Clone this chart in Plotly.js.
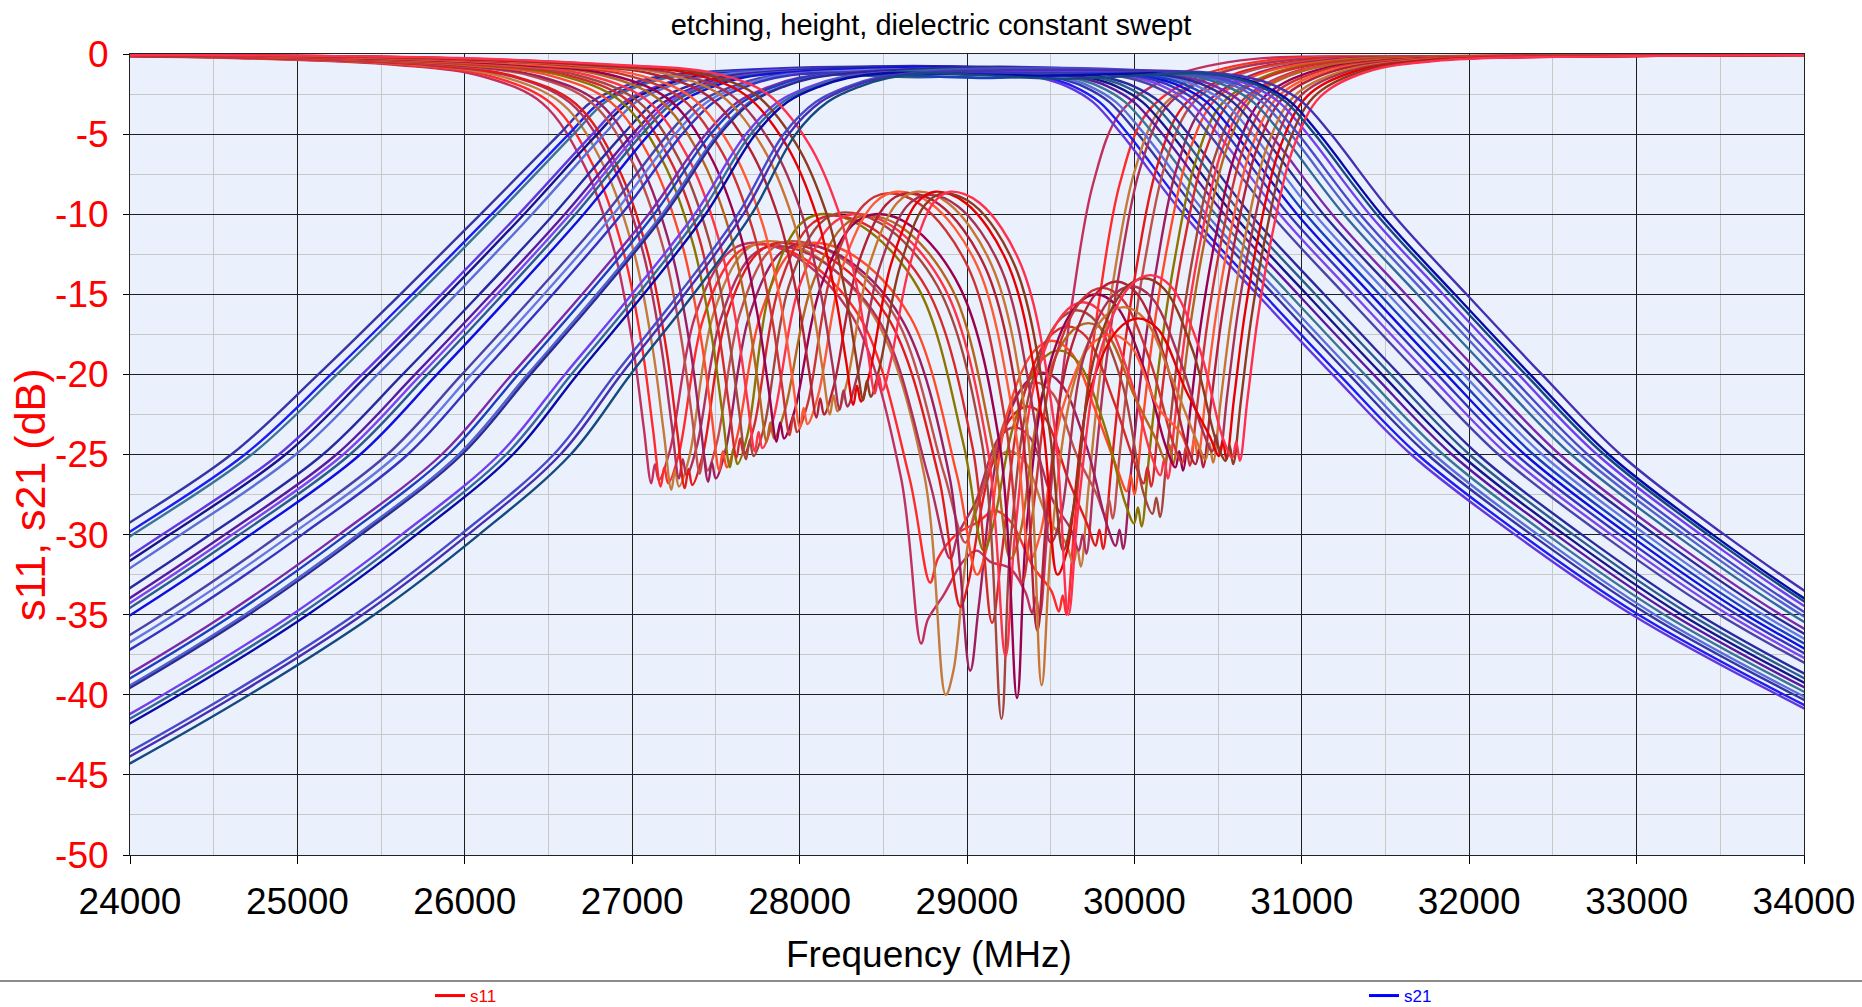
<!DOCTYPE html>
<html><head><meta charset="utf-8">
<script src="https://cdn.plot.ly/plotly-3.0.1.min.js"></script>
<style>html,body{margin:0;padding:0;background:#fff}#chart{width:1862px;height:1007px}</style>
</head><body><div id="chart"></div>
<script>
// ---------- axis ticks ----------
const xTickVals = [24000,25000,26000,27000,28000,29000,30000,31000,32000,33000,34000];
const xTickText = ['24000','25000','26000','27000','28000','29000','30000','31000','32000','33000','34000'];
const yTickVals = [0,-5,-10,-15,-20,-25,-30,-35,-40,-45,-50];
const yTickText = ['0','-5','-10','-15','-20','-25','-30','-35','-40','-45','-50'];

// ---------- s21: dB levels and the frequencies (MHz) where each curve crosses them ----------
const s21LowLevels  = [-50,-45,-40,-35,-30,-25,-20,-15,-10,-5,-3,-2,-1.5,-1.2];
const s21HighLevels = [-1.2,-1.5,-2,-3,-5,-10,-15,-20,-25,-30,-35,-40,-45,-50];
const s21LowFreq = [
 [20265,21315,22265,23115,23885,24605,25125,25615,26095,26565,26755,26955,27115,27335],
 [20373,21417,22363,23209,23973,24686,25200,25685,26160,26621,26811,27011,27171,27391],
 [20428,21469,22412,23256,24017,24727,25237,25720,26192,26650,26840,27040,27200,27420],
 [20645,21674,22608,23443,24193,24889,25386,25860,26322,26763,26953,27153,27313,27533],
 [20699,21725,22657,23490,24237,24929,25423,25895,26354,26791,26981,27181,27341,27561],
 [20780,21802,22730,23560,24303,24990,25479,25948,26402,26833,27023,27223,27383,27603],
 [20997,22007,22926,23748,24479,25152,25629,26088,26532,26946,27136,27336,27496,27716],
 [21106,22109,23024,23842,24567,25233,25703,26158,26597,27003,27193,27393,27553,27773],
 [21160,22160,23073,23889,24611,25274,25740,26193,26629,27031,27221,27421,27581,27801],
 [21214,22212,23121,23935,24655,25314,25778,26228,26661,27059,27249,27449,27609,27829],
 [21296,22289,23195,24006,24721,25375,25834,26280,26710,27102,27292,27492,27652,27872],
 [21513,22494,23391,24193,24897,25537,25983,26420,26839,27215,27405,27605,27765,27985],
 [21594,22570,23464,24264,24963,25598,26039,26473,26888,27257,27447,27647,27807,28027],
 [21675,22647,23537,24334,25029,25659,26095,26526,26936,27299,27489,27689,27849,28069],
 [21946,22903,23782,24568,25249,25862,26281,26701,27098,27440,27630,27830,27990,28210],
 [22001,22955,23831,24615,25293,25902,26319,26736,27131,27469,27659,27859,28019,28239],
 [22082,23032,23904,24685,25359,25963,26375,26788,27179,27511,27701,27901,28061,28281],
 [22109,23057,23929,24709,25381,25983,26393,26806,27195,27525,27715,27915,28075,28295],
 [22407,23339,24198,24967,25623,26206,26598,26998,27373,27680,27870,28070,28230,28450],
 [22462,23390,24247,25014,25667,26247,26636,27033,27406,27709,27899,28099,28259,28479],
 [22516,23441,24296,25061,25711,26287,26673,27068,27438,27737,27927,28127,28287,28507],
 [22841,23749,24590,25342,25975,26531,26897,27278,27632,27906,28096,28296,28456,28676],
 [22896,23800,24639,25389,26019,26571,26934,27313,27664,27935,28125,28325,28485,28705],
 [22977,23877,24712,25459,26085,26632,26990,27366,27713,27977,28167,28367,28527,28747]
];
const s21MidFreq = [28338,28336,28428,28388,28550,28492,28680,28630,28810,28710,28897,28875,29027,28970,29171,29107,29267,29187,29402,29340,29466,29487,29600,29572];
const s21MiddB = [-0.8,-0.9,-1.0,-0.85,-1.3,-0.9,-0.75,-1.1,-0.95,-1.45,-0.8,-1.0,-0.9,-1.2,-0.85,-1.5,-0.95,-0.8,-1.05,-0.9,-1.35,-0.85,-1.0,-1.55];
const s21HighFreq = [
 [29341,29541,29691,29851,30021,30391,30831,31281,31751,32371,33071,33941,34921,36021],
 [29282,29482,29632,29792,29962,30332,30772,31222,31692,32312,33012,33882,34862,35962],
 [29435,29635,29785,29945,30115,30485,30925,31375,31845,32465,33165,34035,35015,36115],
 [29243,29443,29593,29753,29923,30293,30733,31183,31653,32273,32973,33843,34823,35923],
 [29539,29739,29889,30049,30219,30589,31029,31479,31949,32569,33269,34139,35119,36219],
 [29380,29580,29730,29890,30060,30430,30870,31320,31790,32410,33110,33980,34960,36060],
 [29643,29843,29993,30153,30323,30693,31133,31583,32053,32673,33373,34243,35223,36323],
 [29487,29687,29837,29997,30167,30537,30977,31427,31897,32517,33217,34087,35067,36167],
 [29818,30018,30168,30328,30498,30868,31308,31758,32228,32848,33548,34418,35398,36498],
 [29591,29791,29941,30101,30271,30641,31081,31531,32001,32621,33321,34191,35171,36271],
 [29922,30122,30272,30432,30602,30972,31412,31862,32332,32952,33652,34522,35502,36602],
 [29765,29965,30115,30275,30445,30815,31255,31705,32175,32795,33495,34365,35345,36445],
 [30026,30226,30376,30536,30706,31076,31516,31966,32436,33056,33756,34626,35606,36706],
 [29870,30070,30220,30380,30550,30920,31360,31810,32280,32900,33600,34470,35450,36550],
 [30131,30331,30481,30641,30811,31181,31621,32071,32541,33161,33861,34731,35711,36811],
 [29974,30174,30324,30484,30654,31024,31464,31914,32384,33004,33704,34574,35554,36654],
 [30253,30453,30603,30763,30933,31303,31743,32193,32663,33283,33983,34853,35833,36933],
 [30079,30279,30429,30589,30759,31129,31569,32019,32489,33109,33809,34679,35659,36759],
 [30354,30554,30704,30864,31034,31404,31844,32294,32764,33384,34084,34954,35934,37034],
 [30200,30400,30550,30710,30880,31250,31690,32140,32610,33230,33930,34800,35780,36880],
 [30424,30624,30774,30934,31104,31474,31914,32364,32834,33454,34154,35024,36004,37104],
 [30298,30498,30648,30808,30978,31348,31788,32238,32708,33328,34028,34898,35878,36978],
 [30494,30694,30844,31004,31174,31544,31984,32434,32904,33524,34224,35094,36074,37174],
 [30396,30596,30746,30906,31076,31446,31886,32336,32806,33426,34126,34996,35976,37076]
];
const s21Colors = ['#3535A5','#1E1EF0','#3B7596','#6236E0','#16168A','#5A6ED8','#2A2AA0','#5A1AA0','#7B46EA','#2A5C8C','#1010DD','#4B42A8','#6478E0','#3434C0','#7A2AAA','#1A40C0','#5262CC','#2B2B95','#7040EE','#33699A','#0A0AA8','#4848C8','#4430B0','#154A80'];

// ---------- s11: frequency (MHz) and dB points read for each swept curve ----------
const s11Freq = [
 [22614,24614,25614,26114,26464,26714,26894,27004,27069,27114,27136,27159,27224,27375,27565,27700,27956,28316,28603,28726,28766,28859,28975,29058,29140,29256,29349,29389,29412,29434,29479,29544,29634,29754,29914,30184,30634,31634,33434],
 [22670,24670,25670,26170,26520,26770,26950,27060,27125,27170,27192,27215,27278,27425,27609,27740,28000,28364,28655,28780,28826,28934,29068,29165,29261,29395,29503,29549,29572,29594,29639,29704,29794,29914,30074,30344,30794,31794,33594],
 [22734,24734,25734,26234,26584,26834,27014,27124,27189,27234,27256,27279,27340,27483,27662,27790,28061,28440,28743,28873,28919,29025,29159,29254,29349,29483,29589,29635,29658,29680,29725,29790,29880,30000,30160,30430,30880,31880,33680],
 [22780,24780,25780,26280,26630,26880,27060,27170,27235,27280,27302,27325,27386,27527,27704,27830,28097,28472,28772,28900,28946,29054,29188,29284,29380,29514,29622,29668,29691,29713,29758,29823,29913,30033,30193,30463,30913,31913,33713],
 [22814,24814,25814,26314,26664,26914,27094,27204,27269,27314,27336,27359,27420,27563,27742,27870,28142,28524,28829,28960,29008,29122,29263,29364,29465,29606,29720,29768,29791,29813,29858,29923,30013,30133,30293,30563,31013,32013,33813],
 [22904,24904,25904,26404,26754,27004,27184,27294,27359,27404,27426,27449,27507,27641,27810,27930,28195,28566,28863,28990,29040,29157,29303,29408,29512,29658,29775,29825,29848,29870,29915,29980,30070,30190,30350,30620,31070,32070,33870],
 [22954,24954,25954,26454,26804,27054,27234,27344,27409,27454,27476,27499,27558,27695,27867,27990,28247,28607,28896,29019,29071,29193,29345,29454,29562,29714,29836,29888,29911,29933,29978,30043,30133,30253,30413,30683,31133,32133,33933],
 [23020,25020,26020,26520,26870,27120,27300,27410,27475,27520,27542,27565,27624,27763,27936,28060,28310,28660,28940,29060,29114,29239,29396,29508,29619,29776,29901,29955,29978,30000,30045,30110,30200,30320,30480,30750,31200,32200,34000],
 [23084,25084,26084,26584,26934,27184,27364,27474,27539,27584,27606,27629,27688,27825,27997,28120,28365,28708,28982,29100,29154,29280,29437,29549,29661,29818,29944,29998,30021,30043,30088,30153,30243,30363,30523,30793,31243,32243,34043],
 [23123,25123,26123,26623,26973,27223,27403,27513,27578,27623,27645,27668,27729,27873,28052,28180,28422,28762,29034,29150,29204,29331,29489,29603,29716,29874,30001,30055,30078,30100,30145,30210,30300,30420,30580,30850,31300,32300,34100],
 [23180,25180,26180,26680,27030,27280,27460,27570,27635,27680,27702,27725,27788,27935,28119,28250,28489,28824,29091,29206,29260,29386,29544,29657,29770,29928,30054,30108,30131,30153,30198,30263,30353,30473,30633,30903,31353,32353,34153],
 [23233,25233,26233,26733,27083,27333,27513,27623,27688,27733,27755,27778,27843,27995,28185,28320,28547,28866,29121,29230,29286,29415,29577,29693,29808,29970,30099,30155,30178,30200,30245,30310,30400,30520,30680,30950,31400,32400,34200],
 [23303,25303,26303,26803,27153,27403,27583,27693,27758,27803,27825,27848,27913,28065,28255,28390,28607,28912,29156,29260,29316,29445,29608,29724,29839,30002,30131,30187,30210,30232,30277,30342,30432,30552,30712,30982,31432,32432,34232],
 [23362,25362,26362,26862,27212,27462,27642,27752,27817,27862,27884,27907,27972,28124,28314,28450,28662,28959,29197,29299,29356,29488,29654,29772,29890,30056,30188,30245,30268,30290,30335,30400,30490,30610,30770,31040,31490,32490,34290],
 [23440,25440,26440,26940,27290,27540,27720,27830,27895,27940,27962,27985,28049,28199,28386,28520,28722,29006,29233,29330,29387,29521,29689,29808,29927,30095,30229,30286,30309,30331,30376,30441,30531,30651,30811,31081,31531,32531,34331],
 [23502,25502,26502,27002,27352,27602,27782,27892,27957,28002,28024,28047,28111,28260,28447,28580,28780,29060,29284,29380,29437,29571,29738,29858,29977,30144,30278,30335,30358,30380,30425,30490,30580,30700,30860,31130,31580,32580,34380],
 [23601,25601,26601,27101,27451,27701,27881,27991,28056,28101,28123,28146,28205,28344,28517,28640,28835,29108,29326,29420,29477,29609,29775,29893,30011,30177,30309,30366,30389,30411,30456,30521,30611,30731,30891,31161,31611,32611,34411],
 [23681,25681,26681,27181,27531,27781,27961,28071,28136,28181,28203,28226,28283,28416,28582,28700,28886,29148,29356,29446,29505,29642,29813,29936,30058,30229,30366,30425,30448,30470,30515,30580,30670,30790,30950,31220,31670,32670,34470],
 [23740,25740,26740,27240,27590,27840,28020,28130,28195,28240,28262,28285,28342,28475,28641,28760,28945,29204,29411,29500,29558,29693,29862,29983,30103,30272,30407,30465,30488,30510,30555,30620,30710,30830,30990,31260,31710,32710,34510],
 [23821,25821,26821,27321,27671,27921,28101,28211,28276,28321,28343,28366,28419,28544,28699,28810,28992,29248,29452,29540,29598,29733,29902,30023,30143,30312,30447,30505,30528,30550,30595,30660,30750,30870,31030,31300,31750,32750,34550],
 [23880,25880,26880,27380,27730,27980,28160,28270,28335,28380,28402,28425,28477,28599,28751,28860,29039,29289,29489,29575,29633,29769,29939,30060,30181,30351,30487,30545,30568,30590,30635,30700,30790,30910,31070,31340,31790,32790,34590],
 [23950,25950,26950,27450,27800,28050,28230,28340,28405,28450,28472,28495,28544,28657,28799,28900,29076,29324,29521,29606,29665,29802,29973,30096,30218,30389,30526,30585,30608,30630,30675,30740,30830,30950,31110,31380,31830,32830,34630]
];
const s11dB = [
 [-0.05,-0.25,-0.7,-1.42,-3.08,-6.97,-12.33,-18.22,-23.32,-26.8,-25.6,-26.6,-24.8,-16.4,-12.5,-11.8,-12.5,-16.4,-26.3,-36.8,-35.3,-33.8,-31.7,-31.0,-31.7,-32.1,-33.6,-34.9,-33.9,-35.1,-29.84,-22.46,-15.09,-8.07,-3.69,-1.58,-0.4,-0.15,-0.05],
 [-0.05,-0.25,-0.7,-1.43,-3.11,-7.02,-12.42,-18.36,-23.49,-27.0,-25.8,-26.8,-25.0,-16.5,-12.6,-11.9,-12.6,-16.5,-26.4,-33.0,-31.5,-30.0,-29.2,-28.5,-29.2,-32.0,-33.5,-34.8,-33.8,-35.0,-29.75,-22.4,-15.05,-8.05,-3.68,-1.58,-0.4,-0.15,-0.05],
 [-0.05,-0.25,-0.7,-1.44,-3.13,-7.07,-12.51,-18.50,-23.66,-27.2,-26.0,-27.0,-25.2,-16.3,-12.4,-11.7,-12.4,-16.3,-26.2,-40.0,-38.5,-29.4,-25.5,-24.8,-25.5,-29.0,-30.5,-31.8,-30.8,-32.0,-27.2,-20.48,-13.76,-7.36,-3.36,-1.44,-0.4,-0.15,-0.05],
 [-0.05,-0.25,-0.7,-1.40,-3.05,-6.89,-12.19,-18.02,-23.06,-26.5,-25.3,-26.3,-24.5,-16.6,-12.7,-12.0,-12.7,-16.6,-26.5,-31.5,-30.0,-27.9,-24.0,-23.3,-24.0,-27.9,-29.7,-31.0,-30.0,-31.2,-26.52,-19.97,-13.42,-7.18,-3.28,-1.40,-0.4,-0.15,-0.05],
 [-0.05,-0.25,-0.7,-1.44,-3.12,-7.05,-12.47,-18.43,-23.58,-27.1,-25.9,-26.9,-25.1,-16.4,-12.5,-11.8,-12.5,-16.4,-26.3,-34.5,-33.0,-26.6,-22.7,-22.0,-22.7,-26.6,-29.4,-30.7,-29.7,-30.9,-26.27,-19.78,-13.29,-7.11,-3.24,-1.39,-0.4,-0.15,-0.05],
 [-0.05,-0.25,-0.7,-1.39,-3.01,-6.81,-12.05,-17.82,-22.79,-26.2,-25.0,-26.0,-24.2,-16.3,-12.4,-11.7,-12.4,-16.3,-26.2,-30.5,-29.0,-25.1,-21.2,-20.5,-21.2,-25.1,-27.5,-28.8,-27.8,-29.0,-24.65,-18.56,-12.47,-6.67,-3.05,-1.31,-0.4,-0.15,-0.05],
 [-0.05,-0.25,-0.7,-1.42,-3.07,-6.94,-12.28,-18.16,-23.23,-26.7,-25.5,-26.5,-24.7,-16.5,-12.6,-11.9,-12.6,-16.5,-26.4,-38.5,-34.4,-24.5,-20.6,-19.9,-20.6,-24.5,-29.4,-30.7,-29.7,-30.9,-26.27,-19.78,-13.29,-7.11,-3.24,-1.39,-0.4,-0.15,-0.05],
 [-0.05,-0.25,-0.7,-1.38,-2.99,-6.76,-11.96,-17.68,-22.62,-26.0,-24.8,-25.8,-24.0,-16.4,-12.5,-11.8,-12.5,-16.4,-26.3,-32.5,-31.0,-22.5,-18.6,-17.9,-18.6,-22.5,-26.0,-27.3,-26.3,-27.5,-23.38,-17.6,-11.83,-6.33,-2.89,-1.24,-0.4,-0.15,-0.05],
 [-0.05,-0.25,-0.7,-1.37,-2.97,-6.71,-11.87,-17.54,-22.45,-25.8,-24.6,-25.6,-23.8,-14.6,-10.7,-10.0,-10.7,-14.6,-24.5,-31.0,-29.5,-23.1,-19.2,-18.5,-19.2,-23.1,-28.0,-29.3,-28.3,-29.5,-25.08,-18.88,-12.69,-6.79,-3.10,-1.33,-0.4,-0.15,-0.05],
 [-0.05,-0.25,-0.7,-1.34,-2.90,-6.55,-11.59,-17.14,-21.92,-25.2,-24.0,-25.0,-23.2,-14.7,-10.8,-10.1,-10.8,-14.7,-24.6,-35.5,-31.5,-21.6,-17.7,-17.0,-17.7,-21.6,-25.5,-26.8,-25.8,-27.0,-22.95,-17.28,-11.61,-6.21,-2.84,-1.22,-0.4,-0.15,-0.05],
 [-0.05,-0.25,-0.7,-1.34,-2.91,-6.58,-11.64,-17.20,-22.01,-25.3,-24.1,-25.1,-23.3,-14.5,-10.6,-9.9,-10.6,-14.5,-24.4,-41.5,-30.5,-20.6,-16.7,-16.0,-16.7,-20.6,-27.4,-28.7,-27.7,-28.9,-24.57,-18.50,-12.43,-6.65,-3.03,-1.30,-0.4,-0.15,-0.05],
 [-0.05,-0.25,-0.7,-1.31,-2.85,-6.45,-11.41,-16.86,-21.58,-24.8,-23.6,-24.6,-22.8,-14.6,-10.7,-10.0,-10.7,-14.6,-24.5,-37.6,-30.0,-20.1,-16.2,-15.5,-16.2,-20.1,-25.0,-26.3,-25.3,-26.5,-22.53,-16.96,-11.40,-6.10,-2.78,-1.19,-0.4,-0.15,-0.05],
 [-0.05,-0.25,-0.7,-1.28,-2.78,-6.29,-11.13,-16.46,-21.05,-24.2,-23.0,-24.0,-22.2,-14.7,-10.8,-10.1,-10.8,-14.7,-24.6,-31.5,-30.0,-21.4,-17.5,-16.8,-17.5,-21.4,-24.1,-25.4,-24.4,-25.6,-21.76,-16.38,-11.01,-5.89,-2.69,-1.15,-0.4,-0.15,-0.05],
 [-0.05,-0.25,-0.7,-1.28,-2.78,-6.29,-11.13,-16.46,-21.05,-24.2,-23.0,-24.0,-22.2,-14.6,-10.7,-10.0,-10.7,-14.6,-24.5,-40.2,-29.5,-19.6,-15.7,-15.0,-15.7,-19.6,-24.5,-25.8,-24.8,-26.0,-22.1,-16.64,-11.18,-5.98,-2.73,-1.17,-0.4,-0.15,-0.05],
 [-0.05,-0.25,-0.7,-1.26,-2.74,-6.19,-10.95,-16.18,-20.71,-23.8,-22.6,-23.6,-21.8,-13.3,-9.4,-8.7,-9.4,-13.3,-23.2,-33.0,-29.1,-19.2,-15.3,-14.6,-15.3,-19.2,-24.2,-25.5,-24.5,-25.7,-21.85,-16.45,-11.05,-5.91,-2.70,-1.16,-0.4,-0.15,-0.05],
 [-0.05,-0.25,-0.7,-1.23,-2.68,-6.06,-10.72,-15.84,-20.27,-23.3,-22.1,-23.1,-21.3,-13.2,-9.3,-8.6,-9.3,-13.2,-23.1,-31.5,-30.0,-22.1,-18.2,-17.5,-18.2,-22.1,-23.7,-25.0,-24.0,-25.2,-21.42,-16.13,-10.84,-5.80,-2.65,-1.13,-0.4,-0.15,-0.05],
 [-0.05,-0.25,-0.7,-1.20,-2.61,-5.90,-10.44,-15.44,-19.75,-22.7,-21.5,-22.5,-20.7,-13.3,-9.4,-8.7,-9.4,-13.3,-23.2,-36.0,-28.7,-18.8,-14.9,-14.2,-14.9,-18.8,-24.3,-25.6,-24.6,-25.8,-21.93,-16.51,-11.09,-5.93,-2.71,-1.16,-0.4,-0.15,-0.05],
 [-0.05,-0.25,-0.7,-1.19,-2.59,-5.85,-10.35,-15.30,-19.58,-22.5,-21.3,-22.3,-20.5,-13.2,-9.3,-8.6,-9.3,-13.2,-23.1,-39.4,-30.3,-20.4,-16.5,-15.8,-16.5,-20.4,-24.0,-25.3,-24.3,-25.5,-21.68,-16.32,-10.97,-5.87,-2.68,-1.15,-0.4,-0.15,-0.05],
 [-0.05,-0.25,-0.7,-1.18,-2.55,-5.77,-10.21,-15.10,-19.31,-22.2,-21.0,-22.0,-20.2,-13.4,-9.5,-8.8,-9.5,-13.4,-23.3,-30.5,-29.0,-19.1,-15.2,-14.5,-15.2,-19.1,-23.5,-24.8,-23.8,-25.0,-21.25,-16.0,-10.75,-5.75,-2.63,-1.13,-0.4,-0.15,-0.05],
 [-0.05,-0.25,-0.7,-1.16,-2.52,-5.69,-10.07,-14.89,-19.05,-21.9,-20.7,-21.7,-19.9,-13.2,-9.3,-8.6,-9.3,-13.2,-23.1,-32.5,-31.0,-21.1,-17.2,-16.5,-17.2,-21.1,-23.8,-25.1,-24.1,-25.3,-21.51,-16.19,-10.88,-5.82,-2.66,-1.14,-0.4,-0.15,-0.05],
 [-0.05,-0.25,-0.7,-1.14,-2.48,-5.62,-9.94,-14.69,-18.79,-21.6,-20.4,-21.4,-19.6,-13.3,-9.4,-8.7,-9.4,-13.3,-23.2,-31.0,-28.5,-18.6,-14.7,-14.0,-14.7,-18.6,-24.1,-25.4,-24.4,-25.6,-21.76,-16.38,-11.01,-5.89,-2.69,-1.15,-0.4,-0.15,-0.05],
 [-0.05,-0.25,-0.7,-1.12,-2.44,-5.51,-9.75,-14.42,-18.44,-21.2,-20.0,-21.0,-19.2,-13.2,-9.3,-8.6,-9.3,-13.2,-23.1,-35.0,-28.3,-18.4,-14.5,-13.8,-14.5,-18.4,-23.9,-25.2,-24.2,-25.4,-21.59,-16.26,-10.92,-5.84,-2.67,-1.14,-0.4,-0.15,-0.05]
];
const s11Colors = ['#C2305E','#FF2A2A','#C47A3C','#B0305A','#E31A1A','#C0504D','#9E1F5E','#FF4A2A','#8B7500','#D42A2A','#A4463C','#FF3347','#B5651D','#99004D','#CC3333','#FF5A36','#B22234','#C87533','#A83250','#E60000','#8E3A1E','#FF2F4F'];

// ---------- build traces ----------
const FONT = 'Arial, "Liberation Sans", Helvetica, sans-serif';
const LW = 2.4;
const traces = [];
const nMax = Math.max(s11Freq.length, s21LowFreq.length);
for (let i = 0; i < nMax; i++) {
  if (i < s11Freq.length) {
    traces.push({x: s11Freq[i], y: s11dB[i], type: 'scatter', mode: 'lines',
      line: {color: s11Colors[i], width: LW, shape: 'spline', smoothing: 1},
      showlegend: false, hoverinfo: 'skip'});
  }
  if (i < s21LowFreq.length) {
    traces.push({x: [...s21LowFreq[i], s21MidFreq[i], ...s21HighFreq[i]],
      y: [...s21LowLevels, s21MiddB[i], ...s21HighLevels], type: 'scatter', mode: 'lines',
      line: {color: s21Colors[i], width: LW, shape: 'spline', smoothing: 1},
      showlegend: false, hoverinfo: 'skip'});
  }
}
traces.push({x: [null], y: [null], name: 's11', type: 'scatter', mode: 'lines',
  line: {color: '#FF0000', width: 3}, legend: 'legend', hoverinfo: 'skip'});
traces.push({x: [null], y: [null], name: 's21', type: 'scatter', mode: 'lines',
  line: {color: '#0000FF', width: 3}, legend: 'legend2', hoverinfo: 'skip'});

const W = 1862, H = 1007, ML = 130, MR = 58, MT = 54, MB = 152;
const PW = W - ML - MR, PH = H - MT - MB;
const px2x = p => (p - ML) / PW;
const py2y = p => (MT + PH - p) / PH;

const layout = {
  width: W, height: H,
  margin: {l: ML, r: MR, t: MT, b: MB, pad: 0, autoexpand: false},
  paper_bgcolor: '#FFFFFF', plot_bgcolor: '#EBF1FC',
  font: {family: FONT, color: '#000000'},
  title: {text: 'etching, height, dielectric constant swept', font: {family: FONT, size: 29, color: '#000000'},
    x: 0.5, xref: 'container', xanchor: 'center', y: 1 - 25 / H, yref: 'container', yanchor: 'middle'},
  xaxis: {range: [24000, 34000], tickmode: 'array', tickvals: xTickVals, ticktext: xTickText,
    showgrid: true, gridcolor: '#1E1E1E', gridwidth: 1,
    minor: {tickmode: 'linear', tick0: 24000, dtick: 500, showgrid: true, gridcolor: '#C8C8C8', gridwidth: 1, ticks: ''},
    ticks: 'outside', ticklen: 8, tickwidth: 1, tickcolor: '#000000', ticklabelstandoff: 6,
    tickfont: {family: FONT, size: 37, color: '#000000'},
    showline: true, linecolor: '#222222', linewidth: 1, mirror: true, zeroline: false, fixedrange: true},
  yaxis: {range: [-50, 0], tickmode: 'array', tickvals: yTickVals, ticktext: yTickText,
    showgrid: true, gridcolor: '#1E1E1E', gridwidth: 1,
    minor: {tickmode: 'linear', tick0: 0, dtick: 2.5, showgrid: true, gridcolor: '#C8C8C8', gridwidth: 1, ticks: ''},
    ticks: 'outside', ticklen: 6, tickwidth: 1, tickcolor: '#000000', ticklabelstandoff: 7,
    tickfont: {family: FONT, size: 37, color: '#FF0000'},
    showline: true, linecolor: '#222222', linewidth: 1, mirror: true, zeroline: false, fixedrange: true},
  showlegend: true,
  legend: {orientation: 'h', x: px2x(430), xanchor: 'left', y: py2y(996), yanchor: 'middle',
    font: {family: FONT, size: 17, color: '#FF0000'}, bgcolor: 'rgba(0,0,0,0)', borderwidth: 0},
  legend2: {orientation: 'h', x: px2x(1364), xanchor: 'left', y: py2y(996), yanchor: 'middle',
    font: {family: FONT, size: 17, color: '#0000FF'}, bgcolor: 'rgba(0,0,0,0)', borderwidth: 0},
  annotations: [
    {text: 'Frequency (MHz)', xref: 'paper', yref: 'paper', x: px2x(929), y: py2y(954),
     xanchor: 'center', yanchor: 'middle', showarrow: false, font: {family: FONT, size: 37, color: '#000000'}},
    {text: 's11, s21 (dB)', xref: 'paper', yref: 'paper', x: px2x(30), y: py2y(495), textangle: -90,
     xanchor: 'center', yanchor: 'middle', showarrow: false, font: {family: FONT, size: 43, color: '#FF0000'}}
  ],
  shapes: [
    {type: 'line', xref: 'paper', yref: 'paper', x0: px2x(0), x1: px2x(W), y0: py2y(981), y1: py2y(981),
     line: {color: '#666666', width: 1.5}}
  ]
};

Plotly.newPlot('chart', traces, layout, {staticPlot: true, displayModeBar: false});
</script></body></html>
